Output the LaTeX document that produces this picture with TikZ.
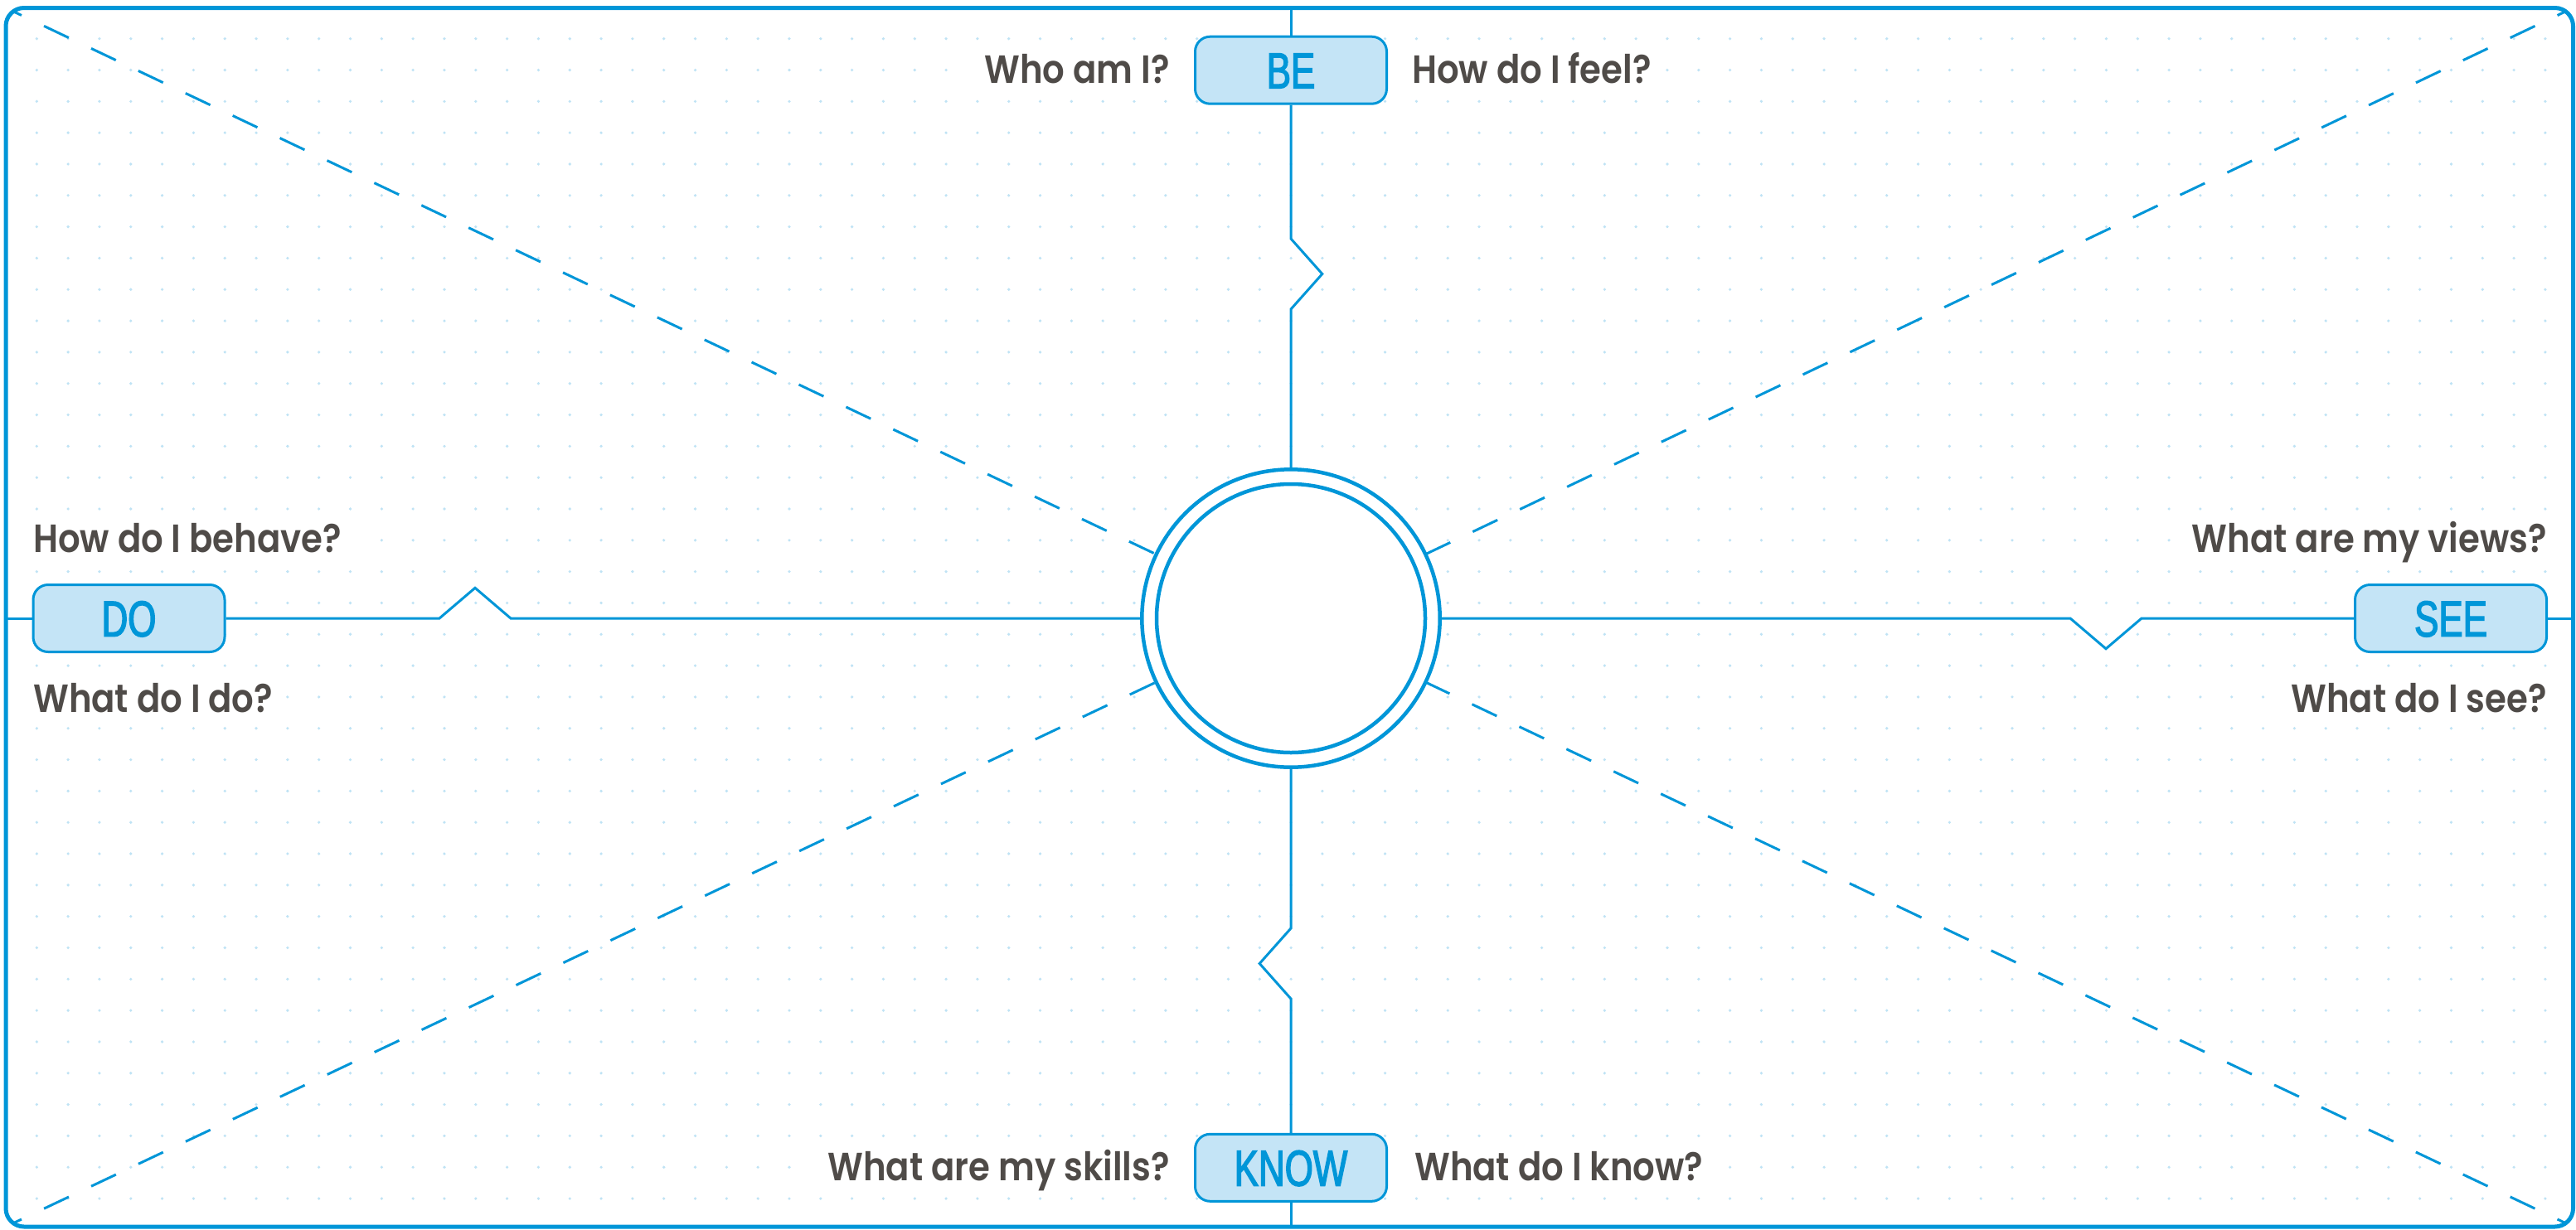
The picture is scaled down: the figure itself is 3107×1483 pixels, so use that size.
\documentclass[tikz,border=0pt]{standalone}
\usepackage{fontspec}
\newfontfamily\labfont[FakeStretch=0.88]{Poppins SemiBold}
\newfontfamily\boxfont[FakeStretch=0.72,FakeBold=2.2]{Liberation Sans}
\definecolor{mblue}{HTML}{0096D8}
\definecolor{boxfill}{HTML}{C4E4F6}
\definecolor{dotblue}{HTML}{BFE3F5}
\definecolor{textgray}{HTML}{4F4B48}
\tikzset{
  lab/.style={font=\labfont\fontsize{47.5}{50}\selectfont, text=textgray, fill=white, inner xsep=14pt, inner ysep=6pt},
  tagbox/.style={draw=mblue, line width=3pt, fill=boxfill, rounded corners=18pt, minimum width=231pt, minimum height=81pt, inner sep=0pt},
  tagtext/.style={font=\boxfont\fontsize{61}{64}\selectfont, text=mblue, inner sep=0pt, anchor=base},
  axis/.style={draw=mblue, line width=3pt},
  dashline/.style={draw=mblue, line width=3pt, dash pattern=on 33pt off 30pt, dash phase=12pt},
  frame/.style={draw=mblue, line width=5pt, rounded corners=22pt},
  hub/.style={circle, draw=mblue, line width=4.5pt, fill=white, minimum size=359.4pt, inner sep=0pt}
}
\begin{document}
\begin{tikzpicture}[x=1pt, y=-1pt]
\useasboundingbox (0,0) rectangle (3107,1483);
\fill[white] (0,0) rectangle (3107,1483);
% dot grid
\foreach \i in {0,...,80}{
  \foreach \j in {0,...,37}{
    \fill[dotblue] ({44.3+37.82*\i},{46.7+37.82*\j}) circle (1.8);
  }
}
% frame corner coordinates
\coordinate (tl) at (7,9.5);
\coordinate (tr) at (3103.5,9.5);
\coordinate (bl) at (7,1480);
\coordinate (br) at (3103.5,1480);
\coordinate (ctr) at (1557,746);
% dashed diagonals
\begin{scope}
  \clip[rounded corners=22pt] (tl) rectangle (br);
  \draw[dashline] (tl) -- (ctr);
  \draw[dashline] (tr) -- (ctr);
  \draw[dashline] (bl) -- (ctr);
  \draw[dashline] (br) -- (ctr);
\end{scope}
% boxes
\node[tagbox] (BE) at (1557,84.7) {};
\node[tagbox] (DO) at (155.5,746) {};
\node[tagbox] (SEE) at (2956,746) {};
\node[tagbox] (KNOW) at (1557,1408.8) {};
\node[tagtext] (BEt) at (1557,106.5) {BE};
\node[tagtext] (DOt) at (155.5,767.8) {DO};
\node[tagtext] (SEEt) at (2956,767.8) {SEE};
\node[tagtext] (KNOWt) at (1557,1430.6) {KNOW};
% hub
\node[hub] (C) at (ctr) {};
\draw[mblue, line width=4.5pt] (C.center) circle (162);
% axis end coordinates
\coordinate (topend) at (1557,9.5);
\coordinate (botend) at (1557,1480);
\coordinate (leftend) at (7,746);
\coordinate (rightend) at (3103.5,746);
% axes with zigzags
\draw[axis] (topend) -- (BE.north);
\draw[axis] (BE.south) -- (1557,288) -- (1594.8,330.5) -- (1557,373) -- (C.north);
\draw[axis] (C.south) -- (1557,1120) -- (1519.2,1162.5) -- (1557,1205) -- (KNOW.north);
\draw[axis] (KNOW.south) -- (botend);
\draw[axis] (leftend) -- (DO.west);
\draw[axis] (DO.east) -- (530,746) -- (573,709.3) -- (616,746) -- (C.west);
\draw[axis] (C.east) -- (2497,746) -- (2540,782.7) -- (2583,746) -- (SEE.west);
\draw[axis] (SEE.east) -- (rightend);
% frame
\draw[frame] (tl) rectangle (br);
% labels
\node[lab, anchor=base east] (who) at (1425,100) {Who am I?};
\node[lab, anchor=base west] (feel) at (1689,100) {How do I feel?};
\node[lab, anchor=base west] (behave) at (26,666.7) {How do I behave?};
\node[lab, anchor=base west] (dodo) at (26,859) {What do I do?};
\node[lab, anchor=base east] (views) at (3086,666.7) {What are my views?};
\node[lab, anchor=base east] (see) at (3086,859) {What do I see?};
\node[lab, anchor=base east] (skills) at (1425,1424) {What are my skills?};
\node[lab, anchor=base west] (know) at (1692,1424) {What do I know?};
\end{tikzpicture}
\end{document}
